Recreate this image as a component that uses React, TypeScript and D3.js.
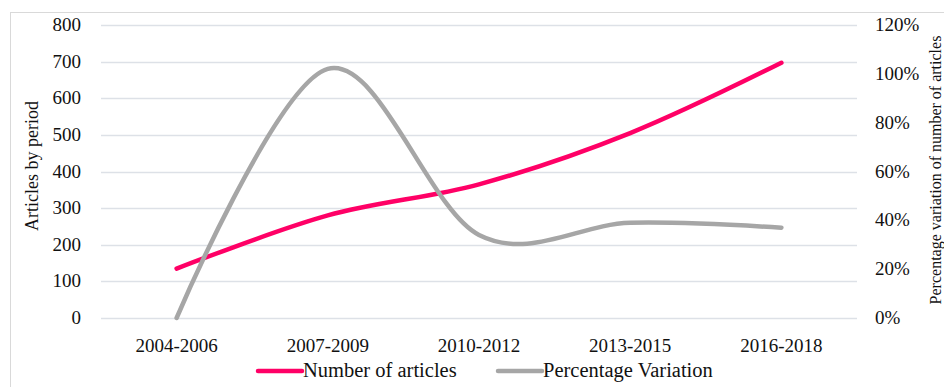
import { useMemo } from "react";
import { scaleLinear, scalePoint, line, curveCardinal } from "d3";

const periods = ["2004-2006", "2007-2009", "2010-2012", "2013-2015", "2016-2018"];
const articles = [135, 280, 365, 505, 697];
const variation = [0, 1.02, 0.34, 0.39, 0.37];
const leftTicks = [0, 100, 200, 300, 400, 500, 600, 700, 800];
const rightTicks = [0, 0.2, 0.4, 0.6, 0.8, 1.0, 1.2];

const W = 944;
const H = 387;
const FONT = "'Liberation Serif', 'Times New Roman', serif";
const PINK = "#ff0066";
const GRAY = "#a6a6a6";

export default function App() {
  const x = useMemo(
    () => scalePoint<string>().domain(periods).range([101, 857]).padding(0.5),
    []
  );
  const yL = scaleLinear().domain([0, 800]).range([318, 25]);
  const yR = scaleLinear().domain([0, 1.2]).range([318, 25]);

  const pinkPath =
    line<number>()
      .x((_, i) => x(periods[i]) ?? 0)
      .y((d) => yL(d))
      .curve(curveCardinal.tension(0))(articles) ?? "";

  const grayPath =
    line<number>()
      .x((_, i) => x(periods[i]) ?? 0)
      .y((d) => yR(d))
      .curve(curveCardinal.tension(0))(variation) ?? "";

  return (
    <svg
      width={W}
      height={H}
      style={{ position: "absolute", left: 0, top: 0, background: "#fff" }}
      fontFamily={FONT}
    >
      <rect x={10.5} y={12.5} width={940} height={390} fill="none" stroke="#d9d9d9" />

      {leftTicks.map((t) => (
        <line
          key={t}
          x1={101}
          x2={857}
          y1={Math.round(yL(t)) + 0.5}
          y2={Math.round(yL(t)) + 0.5}
          stroke="#dde1e7"
          strokeWidth={1.5}
        />
      ))}

      {leftTicks.map((t) => (
        <text key={t} x={81} y={yL(t) + 6} fontSize={19} textAnchor="end" fill="#111">
          {t}
        </text>
      ))}
      {rightTicks.map((t) => (
        <text key={t} x={875} y={yR(t) + 6} fontSize={19} textAnchor="start" fill="#111">
          {Math.round(t * 100)}%
        </text>
      ))}

      {periods.map((p) => (
        <text key={p} x={x(p)} y={352} fontSize={19} textAnchor="middle" fill="#111">
          {p}
        </text>
      ))}

      <text
        transform="translate(38,166) rotate(-90)"
        fontSize={18}
        textAnchor="middle"
        fill="#111"
      >
        Articles by period
      </text>
      <text
        transform="translate(941,170) rotate(-90)"
        fontSize={16}
        textAnchor="middle"
        fill="#111"
      >
        Percentage variation of number of articles
      </text>

      <path d={pinkPath} fill="none" stroke={PINK} strokeWidth={4.5} strokeLinecap="round" />
      <path d={grayPath} fill="none" stroke={GRAY} strokeWidth={4.5} strokeLinecap="round" />

      <line x1={258} x2={302} y1={371} y2={371} stroke={PINK} strokeWidth={4.5} strokeLinecap="round" />
      <text x={303} y={377} fontSize={20.5} fill="#111">
        Number of articles
      </text>
      <line x1={498} x2={542} y1={371} y2={371} stroke={GRAY} strokeWidth={4.5} strokeLinecap="round" />
      <text x={543} y={377} fontSize={20.5} fill="#111">
        Percentage Variation
      </text>
    </svg>
  );
}
